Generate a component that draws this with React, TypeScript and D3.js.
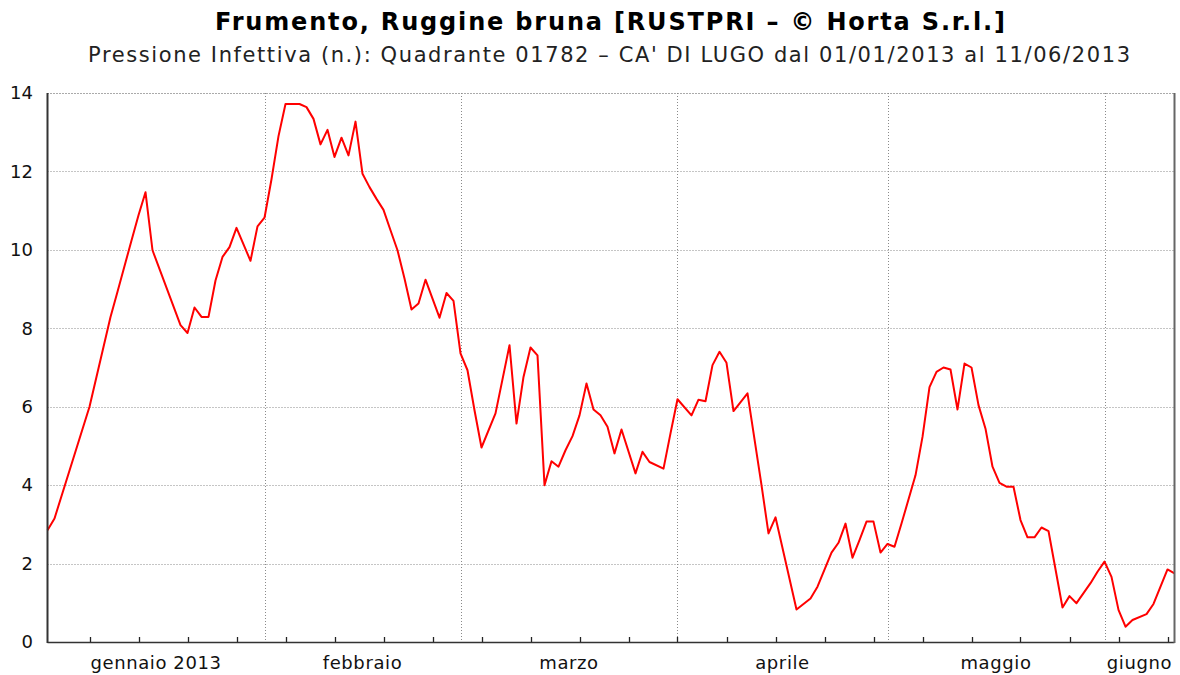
import * as d3 from "d3";

const TITLE = "Frumento, Ruggine bruna [RUSTPRI – © Horta S.r.l.]";
const SUBTITLE =
  "Pressione Infettiva (n.): Quadrante 01782 – CA' DI LUGO dal 01/01/2013 al 11/06/2013";

const YEAR = 2013;
const START = "01-01";
const END = "06-11";

const MONTH_LABELS = ["gennaio 2013", "febbraio", "marzo", "aprile", "maggio", "giugno"];
const Y_TICKS = [0, 2, 4, 6, 8, 10, 12, 14];

// dates (MM-DD) of the line's vertices and their values
const DATES = [
  "01-01", "01-02", "01-07", "01-10", "01-11", "01-13", "01-14", "01-15", "01-16", "01-20",
  "01-21", "01-22", "01-23", "01-24", "01-25", "01-26", "01-27", "01-28", "01-30", "01-31",
  "02-01", "02-02", "02-03", "02-04", "02-06", "02-07", "02-08", "02-09", "02-10", "02-11",
  "02-12", "02-13", "02-14", "02-15", "02-16", "02-17", "02-18", "02-19", "02-20", "02-21",
  "02-22", "02-23", "02-24", "02-26", "02-27", "02-28", "03-01", "03-02", "03-03", "03-04",
  "03-06", "03-08", "03-09", "03-10", "03-11", "03-12", "03-13", "03-14", "03-15", "03-16",
  "03-17", "03-18", "03-19", "03-20", "03-21", "03-22", "03-23", "03-24", "03-26", "03-27",
  "03-28", "03-30", "03-31", "04-01", "04-03", "04-04", "04-05", "04-06", "04-07", "04-08",
  "04-09", "04-11", "04-13", "04-14", "04-15", "04-18", "04-20", "04-21", "04-23", "04-24",
  "04-25", "04-26", "04-27", "04-28", "04-29", "04-30", "05-01", "05-02", "05-03", "05-05",
  "05-06", "05-07", "05-08", "05-09", "05-10", "05-11", "05-12", "05-13", "05-14", "05-15",
  "05-16", "05-17", "05-18", "05-19", "05-20", "05-21", "05-22", "05-23", "05-24", "05-26",
  "05-27", "05-28", "05-30", "05-31", "06-01", "06-02", "06-03", "06-04", "06-05", "06-07",
  "06-08", "06-10", "06-11",
];

const VALUES = [
  2.85, 3.15, 6.0, 8.29, 8.93, 10.24, 10.88, 11.47, 9.99, 8.08,
  7.88, 8.53, 8.29, 8.29, 9.22, 9.82, 10.07, 10.56, 9.72, 10.6,
  10.82, 11.8, 12.9, 13.72, 13.72, 13.64, 13.34, 12.69, 13.06, 12.37,
  12.86, 12.41, 13.27, 11.94, 11.6, 11.3, 11.02, 10.5, 9.99, 9.27,
  8.48, 8.63, 9.24, 8.27, 8.9, 8.7, 7.36, 6.93, 5.91, 4.96,
  5.83, 7.57, 5.57, 6.76, 7.51, 7.31, 4.0, 4.61, 4.47, 4.89,
  5.25, 5.78, 6.59, 5.93, 5.78, 5.49, 4.81, 5.42, 4.3, 4.85,
  4.59, 4.42, 5.32, 6.19, 5.78, 6.18, 6.14, 7.06, 7.4, 7.12,
  5.89, 6.34, 4.0, 2.77, 3.18, 0.83, 1.11, 1.41, 2.28, 2.53,
  3.02, 2.15, 2.6, 3.07, 3.07, 2.28, 2.5, 2.43, 3.02, 4.25,
  5.23, 6.5, 6.89, 7.0, 6.95, 5.93, 7.1, 7.0, 6.04, 5.44,
  4.47, 4.06, 3.96, 3.96, 3.11, 2.67, 2.67, 2.92, 2.83, 0.88,
  1.17, 0.99, 1.5, 1.79, 2.05, 1.66, 0.82, 0.39, 0.56, 0.71,
  0.97, 1.85, 1.75,
];

const W = 1180;
const H = 675;
const m = { top: 93, right: 5.5, bottom: 33, left: 47.5 };

const parse = (md: string) => d3.timeParse("%Y-%m-%d")(`${YEAR}-${md}`) as Date;
const FONT = "'DejaVu Sans', sans-serif";
const GRID = "#8a8a8a";

export default function App() {
  const t0 = parse(START);
  const t1 = parse(END);
  const x = d3.scaleTime().domain([t0, t1]).range([m.left, W - m.right]);
  const y = d3.scaleLinear().domain([0, 14]).range([H - m.bottom, m.top]);

  const points = DATES.map((d, i) => ({ date: parse(d), value: VALUES[i] }));
  const line = d3
    .line<{ date: Date; value: number }>()
    .x((d) => x(d.date))
    .y((d) => y(d.value));

  const months = d3.timeMonth.range(t0, d3.timeDay.offset(t1, 1));
  const mondays = d3.timeMonday.range(t0, d3.timeDay.offset(t1, 1));
  const [x0, x1] = x.range();
  const [yb, yt] = y.range();

  return (
    <svg
      width={W}
      height={H}
      style={{ position: "absolute", left: 0, top: 0, background: "#fff" }}
    >
      <text
        x={610}
        y={30}
        textAnchor="middle"
        fontFamily={FONT}
        fontWeight="bold"
        fontSize={24}
        textLength={790}
        lengthAdjust="spacing"
      >
        {TITLE}
      </text>
      <text
        x={609}
        y={62}
        textAnchor="middle"
        fontFamily={FONT}
        fontSize={21}
        fill="#222"
        textLength={1042}
        lengthAdjust="spacing"
      >
        {SUBTITLE}
      </text>

      {/* horizontal grid */}
      {Y_TICKS.map((v) => (
        <line
          key={v}
          x1={x0}
          x2={x1}
          y1={Math.round(y(v)) + 0.5}
          y2={Math.round(y(v)) + 0.5}
          stroke={v === 14 ? "#555" : GRID}
          strokeDasharray="1 2"
        />
      ))}
      {/* vertical grid at month starts */}
      {months
        .filter((d) => +d > +t0)
        .map((d) => (
          <line
            key={+d}
            x1={Math.round(x(d)) + 0.5}
            x2={Math.round(x(d)) + 0.5}
            y1={yt}
            y2={yb}
            stroke={GRID}
            strokeDasharray="1 2"
          />
        ))}

      {/* weekly ticks */}
      {mondays.map((d) => (
        <line
          key={+d}
          x1={Math.round(x(d)) + 0.5}
          x2={Math.round(x(d)) + 0.5}
          y1={yb}
          y2={yb - 5}
          stroke="#222"
          strokeWidth={1.3}
        />
      ))}

      <path d={line(points) ?? ""} fill="none" stroke="#ff0000" strokeWidth={2} strokeLinejoin="round" />

      {/* frame */}
      <line x1={x0} x2={x0} y1={yt} y2={yb + 1} stroke="#333" strokeWidth={2} />
      <line x1={x0} x2={x1} y1={yb + 0.5} y2={yb + 0.5} stroke="#333" strokeWidth={1.5} />
      <line x1={x1} x2={x1} y1={yt} y2={yb + 1} stroke="#666" strokeWidth={2} />

      {/* y labels */}
      {Y_TICKS.map((v) => (
        <text
          key={v}
          x={33}
          y={y(v)}
          dy="0.35em"
          textAnchor="end"
          fontFamily={FONT}
          fontSize={18}
          fill="#111"
        >
          {v}
        </text>
      ))}

      {/* month labels, centred on the visible part of each month */}
      {months.map((d, i) => {
        const a = Math.max(+d, +t0);
        const b = Math.min(+d3.timeMonth.offset(d, 1), +t1);
        return (
          <text
            key={+d}
            x={(x(new Date(a)) + x(new Date(b))) / 2}
            y={669}
            textAnchor="middle"
            fontFamily={FONT}
            fontSize={18}
            letterSpacing={0.6}
            fill="#111"
          >
            {MONTH_LABELS[i]}
          </text>
        );
      })}
    </svg>
  );
}
